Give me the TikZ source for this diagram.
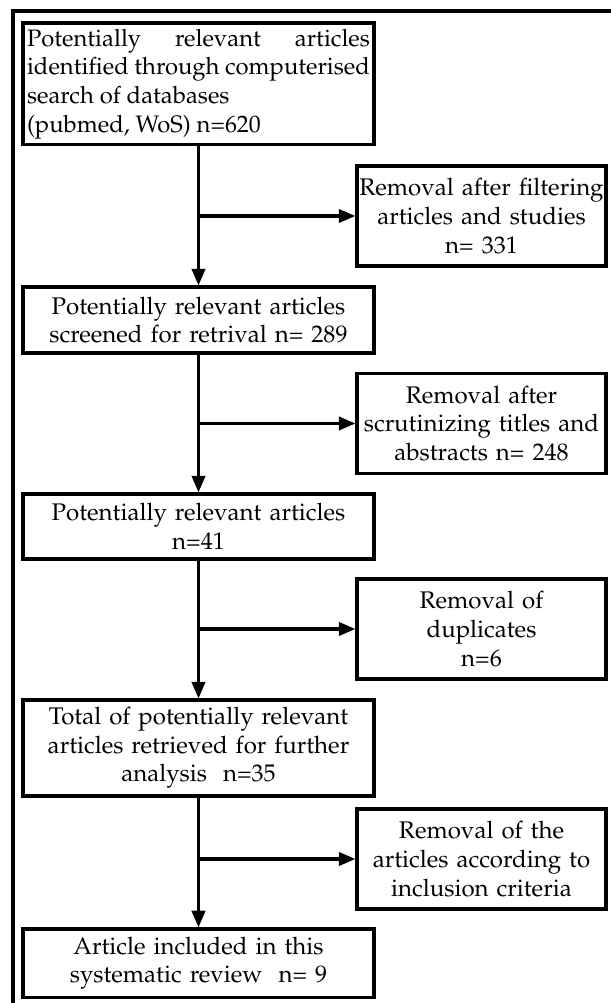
\documentclass[tikz,border=0pt]{standalone}
\usepackage[T1]{fontenc}
\usepackage{mathpazo}
\usetikzlibrary{arrows.meta}
\tikzset{
  mainbox/.style={draw, line width=1.3pt, text width=144pt, inner xsep=1.7pt, inner ysep=1pt, align=center, font=\fontsize{10.1}{12}\selectfont},
  sidebox/.style={draw, line width=1.3pt, text width=103pt, inner xsep=0.8pt, inner ysep=1pt, align=center, minimum height=42pt, font=\fontsize{10.1}{12}\selectfont},
  arr/.style={line width=1.3pt, -{Triangle[length=7pt,width=5.6pt]}}
}
\begin{document}
\begin{tikzpicture}[x=0.42pt,y=-0.42pt]
            \useasboundingbox (0,0) rectangle (610,1003);
            \draw[line width=1.3pt] (13,1015) -- (13,11) -- (625,11);
            \node[mainbox, align=justify, font=\fontsize{10}{12}\selectfont, minimum height=51.2pt] (b1) at (198.5,84) {Potentially relevant articles\linebreak identified through computerised\linebreak search of databases\\(pubmed, WoS) n=620};
            \node[mainbox, minimum height=27.7pt] (b2) at (198.5,320) {Potentially relevant articles\\screened for retrival n= 289};
            \node[mainbox, minimum height=27.3pt] (b3) at (198.5,526.5) {Potentially relevant articles\\n=41};
            \node[mainbox, minimum height=40.3pt] (b4) at (198.5,748) {Total of potentially relevant\\articles retrieved for further\\analysis~ n=35};
            \node[mainbox, minimum height=28.6pt] (b5) at (198.5,963) {Article included in this\\systematic review~ n= 9};
            \node[sidebox] (r1) at (481.5,216) {Removal after filtering\\articles and studies\\n= 331};
            \node[sidebox] (r2) at (481.5,423.5) {Removal after\\scrutinizing titles and\\abstracts n= 248};
            \node[sidebox] (r3) at (481.5,629) {Removal of\\duplicates\\n=6};
            \node[sidebox] (r4) at (481.5,859) {Removal of the\\articles according to\\inclusion criteria};
            \draw[arr] (b1) -- (b2);
            \draw[arr] (b2) -- (b3);
            \draw[arr] (b3) -- (b4);
            \draw[arr] (b4) -- (b5);
            \draw[arr] (r1.west -| b1.south) -- (r1.west);
            \draw[arr] (r2.west -| b2.south) -- (r2.west);
            \draw[arr] (r3.west -| b3.south) -- (r3.west);
            \draw[arr] (r4.west -| b4.south) -- (r4.west);
\end{tikzpicture}
\end{document}
